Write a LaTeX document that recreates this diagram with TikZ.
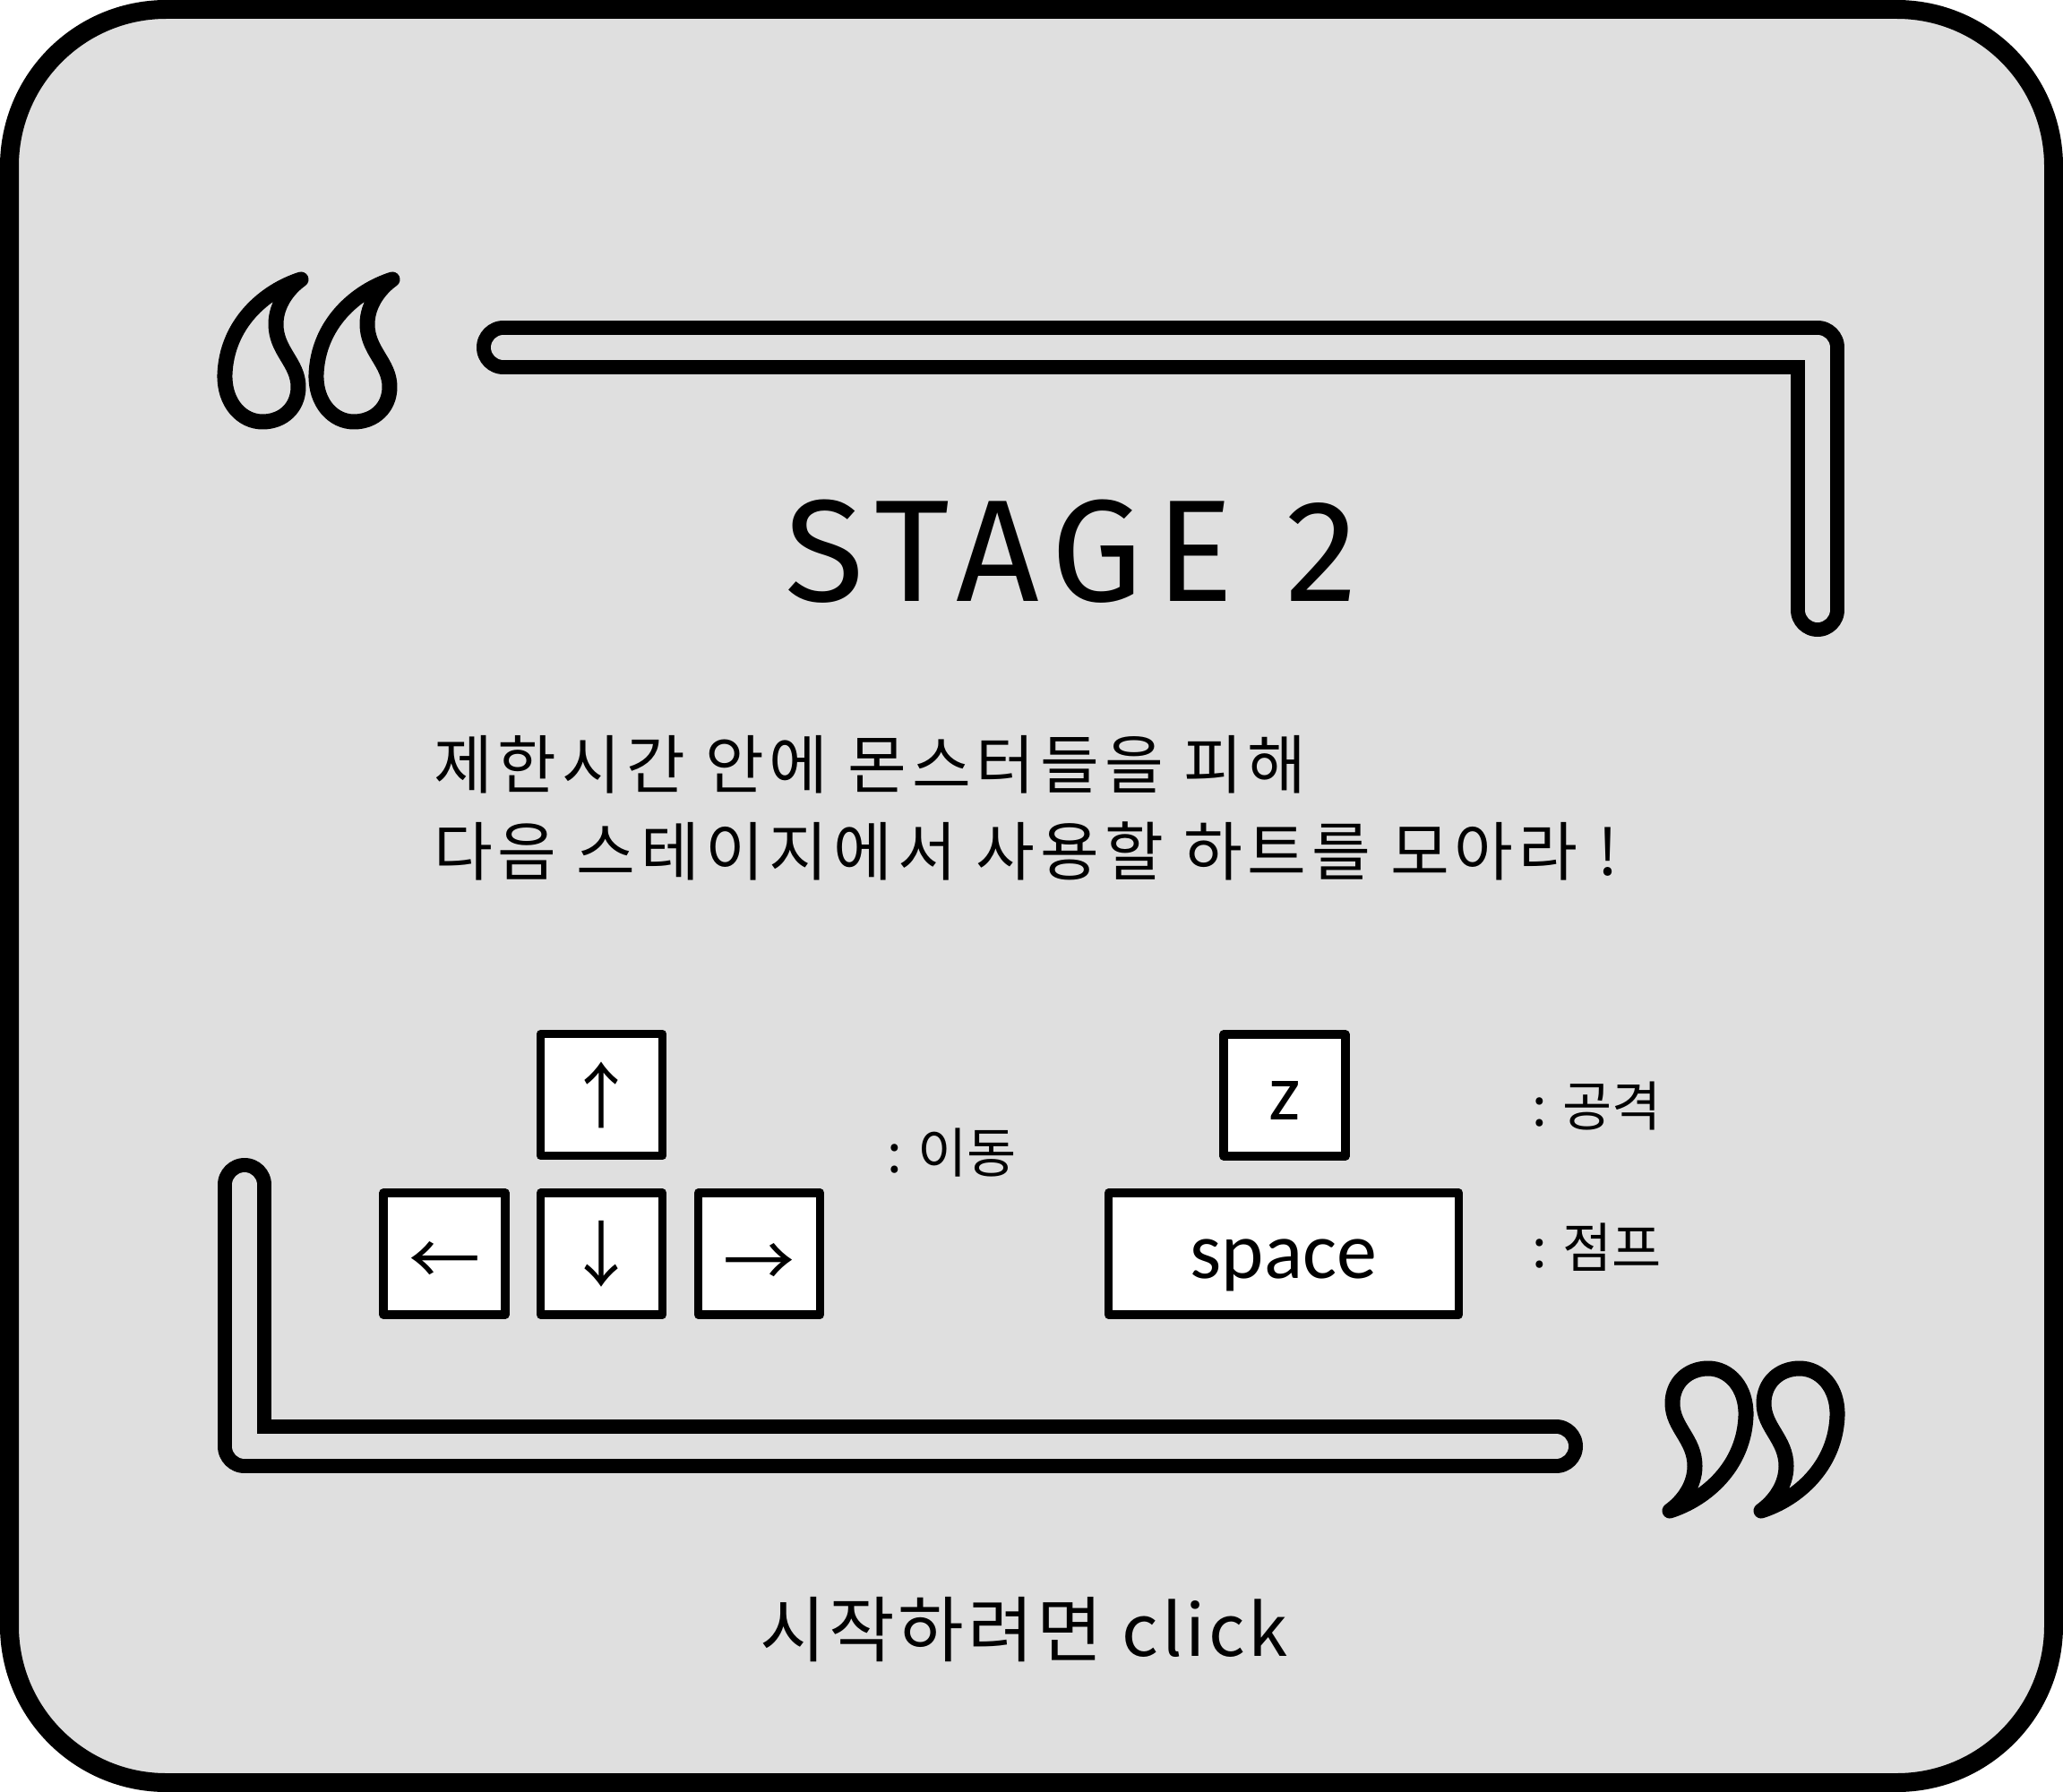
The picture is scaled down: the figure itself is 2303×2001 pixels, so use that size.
\documentclass[tikz,border=0pt]{standalone}
\usepackage{fontspec}
\setmainfont{Noto Sans CJK KR}
\newfontfamily\krfont{Noto Sans CJK KR}
\newfontfamily\krwide[LetterSpace=8.3]{Noto Sans CJK KR}
\newfontfamily\krstart[LetterSpace=4.6]{Noto Sans CJK KR}
\newfontfamily\stgfont[LetterSpace=9.3]{Fira Sans}
\newfontfamily\keyfont{Carlito}
\definecolor{bg}{RGB}{223,223,223}
\newcommand{\drawquotes}{%
  \foreach \dx in {0,102}{%
    \draw[shift={(\dx,0)}, line width=17pt, line join=round]
      (336,312) .. controls (295,325) and (253,362) .. (251,418)
      .. controls (250,450) and (270,471) .. (293,471)
      .. controls (316,471) and (333,455) .. (333,432)
      .. controls (333,405) and (308,392) .. (308,362)
      .. controls (308,340) and (322,322) .. (336,312) -- cycle;
  }%
}
\begin{document}
\begin{tikzpicture}[x=1pt,y=-1pt,
  outlinebar/.style={line width=60pt, line cap=round, line join=round},
  innerbar/.style={bg, line width=28pt, line cap=round, line join=round},
  keybox/.style={draw=black, line width=9.5pt, fill=white, line join=round,
    minimum width=136pt, minimum height=136pt, inner sep=0pt},
  keytext/.style={font=\keyfont\fontsize{90}{90}\selectfont, text height=54pt, text depth=0pt},
  arrowtext/.style={font=\krfont\fontsize{80}{80}\selectfont},
  label/.style={font=\krfont\fontsize{60}{60}\selectfont, inner sep=0pt, anchor=west},
  bodytext/.style={font=\krwide\fontsize{71.5}{72}\selectfont, inner sep=0pt, anchor=west}
]
\useasboundingbox (0,0) rectangle (2303,2001);
\fill[white] (0,0) rectangle (2303,2001);
% frame
\draw[line width=21pt, fill=bg, rounded corners=175pt] (10.5,10.5) rectangle (2292.5,1990.5);
% top bracket
\draw[outlinebar] (562,388) -- (2029,388) -- (2029,681);
\draw[innerbar] (562,388) -- (2029,388) -- (2029,681);
% bottom bracket
\draw[outlinebar] (273,1323) -- (273,1615) -- (1737,1615);
\draw[innerbar] (273,1323) -- (273,1615) -- (1737,1615);
% quotes
\begin{scope}
  \drawquotes
\end{scope}
\begin{scope}[shift={(2302,1999)}, scale=-1]
  \drawquotes
\end{scope}
% title
\node[font=\stgfont\fontsize{162}{162}\selectfont, inner sep=0pt] (title) at (1196,616) {STAGE 2};
% description
\node[bodytext] (line1) at (484,854) {제한시간 안에 몬스터들을 피해};
\node[bodytext] (line2) at (484,950) {다음 스테이지에서 사용할 하트를 모아라 !};
% keys
\node[keybox, arrowtext] (up) at (671.5,1222.5) {↑};
\node[keybox, arrowtext] (left) at (496,1400) {\raisebox{-11pt}[\height][\depth]{←}};
\node[keybox, arrowtext] (down) at (671.5,1400) {↓};
\node[keybox, arrowtext] (right) at (847.5,1400) {\raisebox{-13pt}[\height][\depth]{→}};
\node[keybox, keytext] (z) at (1434,1223) {z};
\node[keybox, keytext, minimum width=391pt] (space) at (1433,1400) {space};
% labels
\node[label] (move) at (990,1287) {: 이동};
\node[label] (attack) at (1710,1235) {: 공격};
\node[label] (jump) at (1710,1393) {: 점프};
% start
\node[font=\krstart\fontsize{80}{80}\selectfont, inner sep=0pt] (start) at (1143,1820) {시작하려면 click};
\end{tikzpicture}
\end{document}
